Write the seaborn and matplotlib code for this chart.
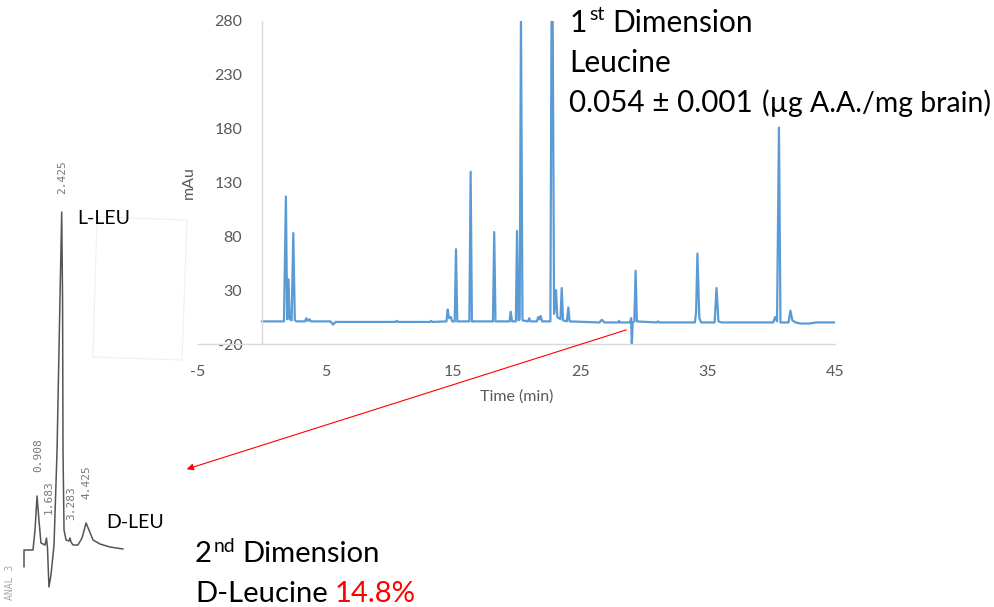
import matplotlib
matplotlib.use("Agg")
import numpy as np
import pandas as pd
import seaborn as sns
import matplotlib.pyplot as plt
from matplotlib.patches import Polygon, FancyArrowPatch

# ---------------- data ----------------
# 1st dimension chromatogram (time in min, signal in mAu)
main_time = [0.0, 1.75, 1.9, 2.0, 2.1, 2.2, 2.35, 2.48, 2.6, 2.75, 3.4, 3.5, 3.6, 3.75, 3.85,
             5.4, 5.6, 5.8, 10.5, 10.6, 10.7, 13.2, 13.3, 13.4, 14.5, 14.6, 14.7, 14.85, 14.95,
             15.15, 15.25, 15.35, 16.3, 16.4, 16.5, 18.15, 18.25, 18.35, 19.45, 19.55, 19.65,
             19.95, 20.04, 20.15, 20.25, 20.35, 20.47, 20.9, 21.0, 21.1, 21.6, 21.7, 21.8, 21.9,
             22.0, 22.66, 22.75, 22.84, 22.95, 23.1, 23.2, 23.45, 23.55, 23.65, 23.95, 24.07, 24.17,
             26.5, 26.7, 26.9, 28.0, 28.05, 28.1, 28.9, 29.0, 29.05, 29.12, 29.25, 29.35, 29.45, 31.0,
             31.1, 31.2, 34.0, 34.1, 34.2, 34.35, 34.5, 35.55, 35.7, 35.85, 36.1, 40.15, 40.3,
             40.45, 40.6, 40.72, 41.35, 41.5, 41.65, 41.9, 42.3, 43.0, 43.5, 45.0]
main_mAu = [1, 1, 117, 3, 40, 3, 2, 83, 2, 1, 1, 4, 1.5, 3, 1,
            1, -2, 0.5, 0.5, 1.5, 0.5, 0.5, 1.5, 0.5, 1, 12, 4, 5, 1,
            1, 68, 1, 1, 140, 1, 1, 84, 1, 1, 10, 1,
            1, 85, 2, 3, 285, 2, 1, 4, 1, 1, 5, 3, 6,
            1, 1, 285, 285, 8, 30, 5, 3, 32, 2, 1, 14, 1,
            0, 2.5, 0, 0, 1.5, 0, 0, 4, -22, 0, 1, 48, 1, 0,
            1, 0, 0, 10, 64, 4, 0, 0, 32, 1, 0, 0, 5,
            1, 181, 0, 0, 11, 2, 0, -1, -1, 0, 0]
x_ticks = [-5, 5, 15, 25, 35, 45]
y_ticks = [-20, 30, 80, 130, 180, 230, 280]

# 2nd dimension chromatogram (scanned trace, time in min, relative response)
inset_time = [0.0, 0.0, 0.62, 0.76, 0.90, 1.03, 1.17, 1.45, 1.55, 1.62, 1.72, 1.86, 2.0,
              2.07, 2.28, 2.48, 2.60, 2.66, 2.69, 2.76, 2.90, 3.10, 3.17, 3.24, 3.38, 3.72,
              4.0, 4.28, 4.48, 4.76, 5.24, 5.93, 6.83]
inset_resp = [-22, -5, -5, 15, 49, 25, 2, 0, 7, -3, -42, -30, -10,
              0, 95, 245, 333, 245, 95, 15, 5, 4, 7, 3, 0, 0,
              7, 22, 15, 5, 1, -2, -4]
peak_labels = ["0.908", "1.683", "2.425", "3.283", "4.425"]
peak_label_t = [0.97, 1.72, 2.62, 3.24, 4.28]
peak_label_v = [90, 48, 368, 42, 63]

# ---------------- figure ----------------
W, H = 995, 607
sns.set_theme(style="white")
plt.rcParams["font.family"] = ["Lato", "DejaVu Sans"]
plt.rcParams["axes.unicode_minus"] = False
fig = plt.figure(figsize=(W / 100, H / 100), dpi=100)
fig.patch.set_facecolor("white")


def fx(px):
    return px / W


def fy(py):
    return 1 - py / H


# main chromatogram
ax = fig.add_axes([fx(198), fy(344), fx(835) - fx(198), fy(21) - fy(344)])
df = pd.DataFrame({"Time (min)": main_time, "mAu": main_mAu})
sns.lineplot(data=df, x="Time (min)", y="mAu", ax=ax, color="#5B9BD5", lw=1.6,
             sort=False, estimator=None)
ax.set_xlim(-5, 45)
ax.set_ylim(-20, 280)
ax.set_xticks(x_ticks)
ax.set_yticks(y_ticks)
for s in ["top", "right"]:
    ax.spines[s].set_visible(False)
ax.spines["left"].set_position(("data", 0))
for s in ["left", "bottom"]:
    ax.spines[s].set_color("#d9d9d9")
    ax.spines[s].set_linewidth(1.0)
ax.tick_params(axis="both", length=0, labelsize=11.5, labelcolor="#595959")
ax.tick_params(axis="x", pad=15)
ax.tick_params(axis="y", pad=14)
ax.set_xlabel("Time (min)", fontsize=11.5, color="#595959")
ax.set_ylabel("mAu", fontsize=11.5, color="#595959")
ax.xaxis.set_label_coords(0.5, -0.142)
ax.yaxis.set_label_coords(-0.004, 0.5)
ax.patch.set_alpha(0)

# inset (2nd dimension)
axi = fig.add_axes([0, fy(600), fx(140), fy(140) - fy(600)])
dfi = pd.DataFrame({"t": inset_time, "r": inset_resp})
sns.lineplot(data=dfi, x="t", y="r", ax=axi, color="#555555", lw=1.1,
             sort=False, estimator=None)
axi.set_xlim(-24 / 14.5, (140 - 24) / 14.5)
axi.set_ylim(545 - 600, 545 - 140)
axi.axis("off")
for lab, t, v in zip(peak_labels, peak_label_t, peak_label_v):
    axi.text(t, v, lab, rotation=90, ha="center", va="center", fontsize=8,
             family="DejaVu Sans Mono", color="#777777")
axi.text(-0.97, -37, "ANAL 3", rotation=90, ha="center", va="center", fontsize=7,
         family="DejaVu Sans Mono", color="#aaaaaa")

fig.text(fx(77), fy(218), "L-LEU", va="center", ha="left", fontsize=14, color="black")
fig.text(fx(106), fy(523), "D-LEU", va="center", ha="left", fontsize=14, color="black")

# faint box
fig.add_artist(Polygon([[fx(97), fy(217)], [fx(187), fy(220)], [fx(182), fy(360)], [fx(93), fy(357)]],
                       closed=True, fill=False, edgecolor="#f0f0f0", lw=0.8,
                       transform=fig.transFigure))

# red arrow
fig.add_artist(FancyArrowPatch(posA=(fx(629), fy(329)), posB=(fx(184), fy(470)),
                               transform=fig.transFigure, arrowstyle="-|>",
                               mutation_scale=10, color="red", lw=0.8))

renderer = fig.canvas.get_renderer()


def fit_size(s, target_w):
    t = fig.text(0, 0, s, fontsize=20)
    w = t.get_window_extent(renderer).width
    t.remove()
    return 20 * target_w / w


def chain(x_px, base_px, pieces):
    """pieces: (text, size_pt, color, raise_px, gap_after_px)"""
    x = x_px
    for s, size, color, dy, gap in pieces:
        t = fig.text(fx(x), fy(base_px - dy), s, fontsize=size, color=color,
                     va="baseline", ha="left")
        x += t.get_window_extent(renderer).width + gap


big = fit_size("Leucine", 102)
sp = big * 100 / 72 * 0.24
chain(570, 32, [("1", big, "black", 0, 2), ("st", big * 0.66, "black", 12, sp),
                ("Dimension", big, "black", 0, 0)])
chain(569, 72, [("Leucine", big, "black", 0, 0)])
chain(569, 112, [("0.054 \u00b1 0.001", fit_size("0.054 \u00b1 0.001", 184), "black", 0, 0)])
chain(762, 112, [("(\u00b5g A.A./mg brain)", fit_size("(\u00b5g A.A./mg brain)", 228), "black", 0, 0)])

big2 = fit_size("D-Leucine 14.8%", 222)
sp2 = big2 * 100 / 72 * 0.24
chain(195, 562, [("2", big2, "black", 0, 2), ("nd", big2 * 0.66, "black", 10, sp2),
                 ("Dimension", big2, "black", 0, 0)])
chain(195, 602, [("D-Leucine", big2, "black", 0, sp2), ("14.8%", big2, "red", 0, 0)])

fig.savefig("out.png", dpi=100, facecolor="white")
